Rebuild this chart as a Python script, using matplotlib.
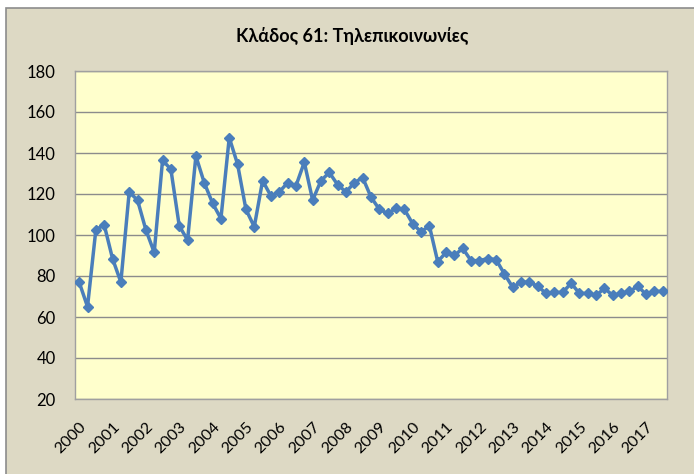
import matplotlib.pyplot as plt
from matplotlib.patches import Rectangle

plt.rcParams['font.family'] = ['Lato', 'DejaVu Sans']

# quarterly index, 2000 Q1 .. 2017 Q3
values = [77, 65, 102.5, 105, 88.5, 77, 121, 117, 102.5, 91.5,
          136.5, 132, 104.5, 97.5, 138.5, 125.5, 115.5, 108, 147.5, 134.5,
          112.5, 104, 126.5, 119, 121, 125.5, 124, 135.5, 117, 126.5,
          130.5, 124.5, 121, 125.5, 128, 118.5, 112.5, 110.5, 113, 112.5,
          105.5, 101.5, 104.5, 87, 91.5, 90, 93.5, 87.5, 87.5, 88.5,
          88, 81, 74.5, 77, 77, 75, 71.5, 72, 72, 76.5,
          71.5, 71.5, 70.5, 74, 70.5, 71.5, 72.5, 75, 71, 72.5, 72.5]
years = [str(y) for y in range(2000, 2018)]
title = "Κλάδος 61: Τηλεπικοινωνίες"

fig = plt.figure(figsize=(6.94, 4.74), dpi=100)
fig.patch.set_facecolor('white')
# chart area frame, runs off the right and bottom edges
fig.patches.append(Rectangle((6 / 694, -0.05), 1.0, (474 - 8) / 474 + 0.05,
                             transform=fig.transFigure, facecolor='#DDD9C4',
                             edgecolor='#8C8C8C', linewidth=1.2, zorder=-5))

ax = fig.add_axes([75 / 694, 1 - 399 / 474, (667 - 75) / 694, (399 - 71) / 474])
ax.set_zorder(2)
ax.set_facecolor('#FFFFCC')

x = list(range(len(values)))
ax.plot(x, values, color='#4A7EBB', linewidth=2.5, marker='D', markersize=5,
        markerfacecolor='#4A7EBB', markeredgecolor='#4A7EBB', zorder=3)

ax.set_ylim(20, 180)
ax.set_yticks(range(20, 181, 20))
ax.set_xlim(-0.5, len(values) - 0.5)
ax.set_xticks(range(0, len(values), 4))
ax.set_xticklabels(years, rotation=45, ha='right', va='top',
                   rotation_mode='anchor')
ax.tick_params(axis='both', length=0, colors='black')
ax.tick_params(axis='y', pad=14, labelsize=12)
ax.tick_params(axis='x', pad=15, labelsize=11.5)
ax.grid(axis='y', color='#8C8C8C', linewidth=1)
ax.set_axisbelow(True)
for s in ax.spines.values():
    s.set_color('#A0A0A0')
    s.set_linewidth(1)

fig.text(352 / 694, 1 - 36 / 474, title, ha='center', va='center',
         fontsize=13, fontweight='bold', zorder=3)

fig.savefig('out.png', dpi=100, facecolor=fig.get_facecolor())
